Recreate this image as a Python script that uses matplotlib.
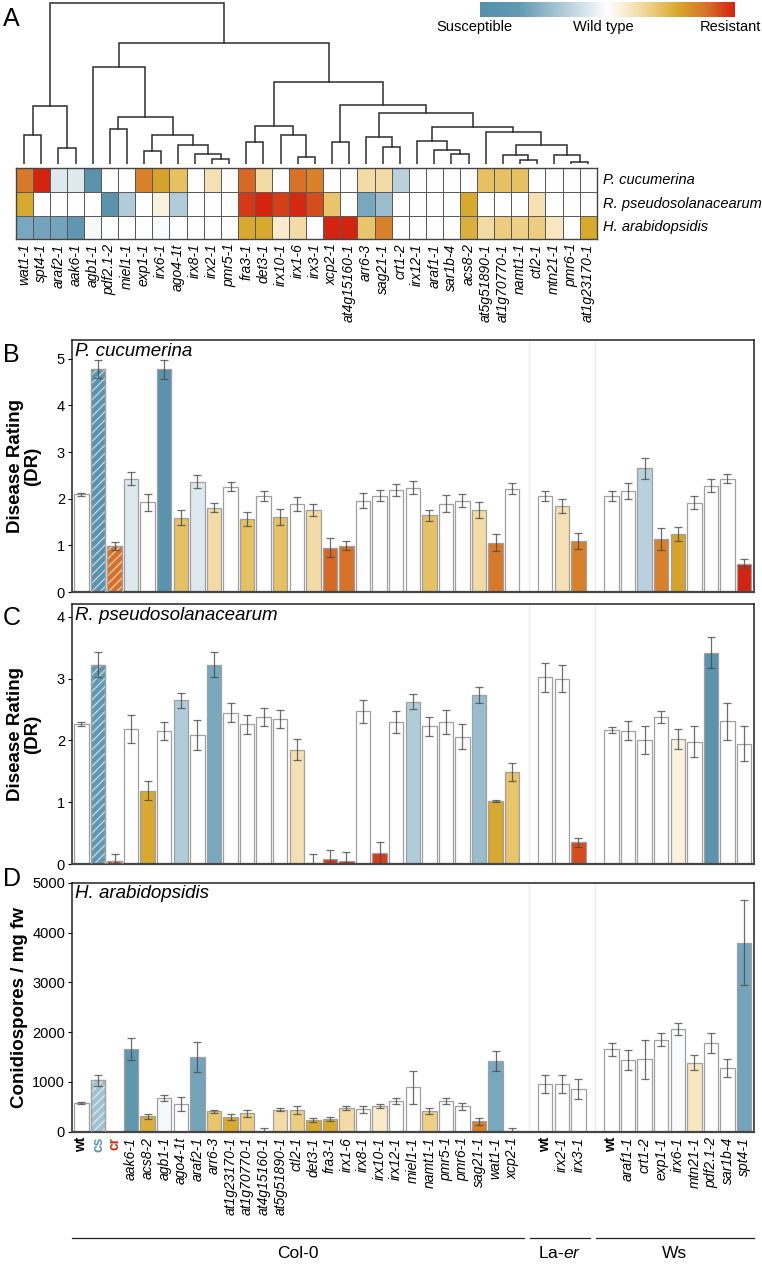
import numpy as np
import matplotlib
matplotlib.use('Agg')
import matplotlib.pyplot as plt
from matplotlib.colors import LinearSegmentedColormap, Normalize
import matplotlib.transforms as mtransforms

plt.rcParams['font.family'] = ['Liberation Sans', 'DejaVu Sans']
plt.rcParams['mathtext.fontset'] = 'custom'
plt.rcParams['mathtext.rm'] = 'Liberation Sans'
plt.rcParams['mathtext.it'] = 'Liberation Sans:italic'
plt.rcParams['hatch.linewidth'] = 1.0

# ---------------- heatmap data (panel A) ----------------
heat_genotypes = ['wat1-1', 'spt4-1', 'araf2-1', 'aak6-1', 'agb1-1', 'pdf2.1-2', 'miel1-1',
                  'exp1-1', 'irx6-1', 'ago4-1t', 'irx8-1', 'irx2-1', 'pmr5-1', 'fra3-1',
                  'det3-1', 'irx10-1', 'irx1-6', 'irx3-1', 'xcp2-1', 'at4g15160-1', 'arr6-3',
                  'sag21-1', 'crt1-2', 'irx12-1', 'araf1-1', 'sar1b-4', 'acs8-2',
                  'at5g51890-1', 'at1g70770-1', 'namt1-1', 'ctl2-1', 'mtn21-1', 'pmr6-1',
                  'at1g23170-1']
pathogens = ['P. cucumerina', 'R. pseudosolanacearum', 'H. arabidopsidis']
score_pcuc = [0.75, 1.0, -0.15, -0.15, -0.9, 0, 0, 0.72, 0.58, 0.42, 0, 0.22, 0, 0.8,
              0.25, 0, 0.78, 0.72, 0, 0, 0.25, 0.25, -0.32, 0, 0, 0, 0, 0.42, 0.42, 0.42,
              0, 0, 0, 0]
score_rpseudo = [0.55, 0, 0, 0, 0, -0.9, -0.35, 0, 0.1, -0.35, 0, 0, 0, 0.93, 1.0, 0.92,
                 0.98, 0.88, 0.4, 0, -0.6, -0.45, 0, 0, 0, 0, 0.55, 0, 0, 0, 0.22, 0, 0, 0]
score_harab = [-0.6, -0.62, -0.62, -0.78, -0.04, 0, 0, 0, -0.03, 0, 0, 0, 0, 0.55, 0.55,
               0.15, 0.25, 0, 1.0, 1.0, 0.4, 0.72, 0, 0, 0, 0, 0.52, 0.25, 0.35, 0.33,
               0.35, 0.18, 0, 0.55]

# dendrogram merges (left id, right id, height); leaves 0..33, new clusters 34..
dendro_merges = [
    (0, 1, 29), (2, 3, 16), (34, 35, 58), (5, 6, 34.3), (7, 8, 12.3), (11, 12, 5),
    (10, 39, 9.3), (9, 40, 19), (38, 41, 28.3), (37, 42, 46.3), (4, 43, 97),
    (13, 14, 21.6), (16, 17, 6.6), (15, 46, 28.3), (45, 47, 38), (18, 19, 21.6),
    (21, 22, 16.6), (20, 50, 26.6), (25, 26, 9.3), (24, 52, 13.3), (23, 53, 22.6),
    (29, 30, 4), (28, 55, 8.3), (32, 33, 1.6), (31, 57, 8.3), (56, 58, 18.3),
    (27, 59, 31.6), (54, 60, 36.6), (51, 61, 50.6), (49, 62, 58.3), (48, 63, 81.3),
    (44, 64, 120.6), (36, 65, 161),
]

# ---------------- bar data (panels B-D) ----------------
col0_genotypes = ['wt', 'cs', 'cr', 'aak6-1', 'acs8-2', 'agb1-1', 'ago4-1t', 'araf2-1',
                  'arr6-3', 'at1g23170-1', 'at1g70770-1', 'at4g15160-1', 'at5g51890-1',
                  'ctl2-1', 'det3-1', 'fra3-1', 'irx1-6', 'irx8-1', 'irx10-1', 'irx12-1',
                  'miel1-1', 'namt1-1', 'pmr5-1', 'pmr6-1', 'sag21-1', 'wat1-1', 'xcp2-1']
laer_genotypes = ['wt', 'irx2-1', 'irx3-1']
ws_genotypes = ['wt', 'araf1-1', 'crt1-2', 'exp1-1', 'irx6-1', 'mtn21-1', 'pdf2.1-2',
                'sar1b-4', 'spt4-1']
group_names = ['Col-0', r'La-$\mathit{er}$', 'Ws']

pcuc_dr = [2.09, 4.78, 0.99, 2.43, 1.92, 4.77, 1.59, 2.36, 1.81, 2.26, 1.57, 2.06, 1.61,
           1.89, 1.76, 0.95, 0.99, 1.96, 2.06, 2.19, 2.23, 1.64, 1.89, 1.96, 1.76, 1.06, 2.21,
           2.06, 1.84, 1.09,
           2.06, 2.16, 2.65, 1.14, 1.24, 1.91, 2.28, 2.43, 0.61]
pcuc_err = [0.04, 0.2, 0.08, 0.14, 0.18, 0.2, 0.16, 0.14, 0.09, 0.1, 0.15, 0.11, 0.17,
            0.15, 0.13, 0.2, 0.1, 0.17, 0.12, 0.13, 0.14, 0.11, 0.18, 0.13, 0.17, 0.18, 0.12,
            0.11, 0.15, 0.17,
            0.1, 0.17, 0.22, 0.24, 0.15, 0.14, 0.14, 0.09, 0.1]
rps_dr = [2.27, 3.23, 0.05, 2.19, 1.19, 2.15, 2.65, 2.09, 3.23, 2.45, 2.26, 2.38, 2.35,
          1.85, 0.01, 0.08, 0.05, 2.47, 0.18, 2.30, 2.63, 2.23, 2.30, 2.06, 2.74, 1.02, 1.49,
          3.02, 3.0, 0.35,
          2.17, 2.16, 2.01, 2.38, 2.03, 1.98, 3.42, 2.31, 1.95]
rps_err = [0.03, 0.2, 0.12, 0.23, 0.15, 0.15, 0.12, 0.24, 0.2, 0.15, 0.15, 0.14, 0.14,
           0.17, 0.15, 0.15, 0.15, 0.18, 0.18, 0.18, 0.12, 0.15, 0.2, 0.2, 0.13, 0.02, 0.15,
           0.23, 0.22, 0.07,
           0.05, 0.15, 0.23, 0.1, 0.16, 0.25, 0.25, 0.3, 0.28]
harab_spores = [575, 1035, 0, 1660, 310, 675, 553, 1500, 410, 290, 370, 5, 440, 440, 240,
                260, 475, 450, 510, 620, 890, 410, 610, 510, 210, 1410, 5,
                960, 950, 850,
                1650, 1430, 1450, 1850, 2060, 1380, 1780, 1280, 3800]
harab_err = [15, 110, 0, 220, 50, 60, 150, 300, 30, 60, 70, 60, 30, 80, 40, 40, 40, 70,
             40, 60, 330, 60, 60, 70, 70, 200, 70,
             180, 180, 200,
             130, 200, 400, 130, 120, 150, 200, 180, 850]
# colour score of the susceptible (cs) / resistant (cr) controls in each assay
ctrl_pcuc = {'cs': -0.9, 'cr': 0.78}
ctrl_rps = {'cs': -0.75, 'cr': 0.97}
ctrl_harab = {'cs': -0.42, 'cr': 0.97}

# ---------------- styling ----------------
cmap = LinearSegmentedColormap.from_list('sr', [
    (0.0, '#5590ab'), (0.15, '#6299b3'), (0.5, '#ffffff'), (0.6, '#f6e4bb'),
    (0.7, '#e8c56c'), (0.78, '#d6a82c'), (0.88, '#d8782a'), (1.0, '#d4230f')])
norm = Normalize(-1, 1)

W, H = 762, 1270
fig = plt.figure(figsize=(W / 100, H / 100), dpi=100)


def rect(x0, y0, x1, y1):
    return [x0 / W, 1 - y1 / H, (x1 - x0) / W, (y1 - y0) / H]


# ---------------- dendrogram ----------------
ax_dn = fig.add_axes(rect(15.7, 0, 596.7, 163.5))
nleaf = len(heat_genotypes)
xpos = {i: i + 0.5 for i in range(nleaf)}
hpos = {i: 0.0 for i in range(nleaf)}
for k, (a, b, h) in enumerate(dendro_merges):
    cid = nleaf + k
    ax_dn.plot([xpos[a], xpos[a], xpos[b], xpos[b]], [hpos[a], h, h, hpos[b]],
               color='#2e2e2e', lw=1.1, solid_joinstyle='miter')
    xpos[cid] = (xpos[a] + xpos[b]) / 2
    hpos[cid] = h
ax_dn.set_xlim(0, nleaf)
ax_dn.set_ylim(0, 163.5)
ax_dn.axis('off')

# ---------------- heatmap ----------------
ax_h = fig.add_axes(rect(15.7, 168.3, 596.7, 239.3))
heat = np.array([score_pcuc, score_rpseudo, score_harab])
ax_h.pcolormesh(np.arange(nleaf + 1), np.arange(4), heat, cmap=cmap, norm=norm,
                edgecolors='#5a5a5a', linewidth=0.7)
ax_h.set_xlim(0, nleaf)
ax_h.set_ylim(3, 0)
ax_h.set_yticks([])
ax_h.set_xticks(np.arange(nleaf) + 0.5)
ax_h.set_xticklabels(heat_genotypes, rotation=90, style='italic', fontsize=10)
ax_h.tick_params(axis='x', length=0, pad=3)
for s in ax_h.spines.values():
    s.set_color('#444444')
    s.set_linewidth(1.0)
for r, name in enumerate(pathogens):
    ax_h.text(nleaf + 0.35, r + 0.5, name, va='center', ha='left', style='italic',
              fontsize=10.5)

# colour bar
ax_cb = fig.add_axes(rect(480, 2, 735, 17))
ax_cb.imshow(np.linspace(-1, 1, 256)[None, :], aspect='auto', cmap=cmap, norm=norm)
ax_cb.axis('off')
for txt, xc in [('Susceptible', 474), ('Wild type', 603), ('Resistant', 730)]:
    fig.text(xc / W, 1 - 27 / H, txt, ha='center', va='center', fontsize=10.5)

# ---------------- bar panels ----------------
groups = [col0_genotypes, laer_genotypes, ws_genotypes]
all_genotypes = []
positions = []
group_spans = []
start = 0
for g in groups:
    positions.extend(range(start, start + len(g)))
    all_genotypes.extend(g)
    group_spans.append((start, start + len(g) - 1))
    start += len(g) + 1
positions = np.array(positions, dtype=float)
separators = [group_spans[i][1] + 1 for i in range(len(groups) - 1)]
score_lookup = {p: dict(zip(heat_genotypes, s))
                for p, s in zip(pathogens, [score_pcuc, score_rpseudo, score_harab])}

panel_specs = [
    ('B', rect(72, 340, 754, 592), pathogens[0], pcuc_dr, pcuc_err, ctrl_pcuc,
     (0, 5.4), [0, 1, 2, 3, 4, 5], 'Disease Rating\n(DR)', 343),
    ('C', rect(72, 604, 754, 864), pathogens[1], rps_dr, rps_err, ctrl_rps,
     (0, 4.21), [0, 1, 2, 3, 4], 'Disease Rating\n(DR)', 606),
    ('D', rect(72, 883, 754, 1131.5), pathogens[2], harab_spores, harab_err, ctrl_harab,
     (0, 5000), [0, 1000, 2000, 3000, 4000, 5000], 'Conidiospores / mg fw', 867),
]
bw = 0.87
axes = []
for letter, r, path, vals, errs, ctrl, ylim, yt, ylab, ly in panel_specs:
    ax = fig.add_axes(r)
    axes.append(ax)
    colors = []
    for g in all_genotypes:
        if g == 'wt':
            s = 0
        elif g in ctrl:
            s = ctrl[g]
        else:
            s = score_lookup[path][g]
        colors.append(cmap(norm(s)))
    vals = np.array(vals, dtype=float)
    ax.bar(positions, vals, width=bw, color=colors, edgecolor='#a0a0a0', linewidth=0.9,
           zorder=2)
    idx = [i for i, g in enumerate(all_genotypes) if g in ctrl]
    ax.bar(positions[idx], vals[idx], width=bw, facecolor='none',
           edgecolor=(1, 1, 1, 0.6), hatch='////', linewidth=0, zorder=2.5)
    ax.bar(positions[idx], vals[idx], width=bw, facecolor='none', edgecolor='#a0a0a0',
           linewidth=0.9, zorder=2.6)
    ax.errorbar(positions, vals, yerr=errs, fmt='none', ecolor='#4a4a4a', elinewidth=0.9,
                capsize=3, capthick=0.9, alpha=0.8, zorder=3)
    for sx in separators:
        ax.axvline(sx, color='#ebebeb', lw=1, zorder=0)
    ax.set_xlim(-0.57, 40.6)
    ax.set_ylim(*ylim)
    ax.set_yticks(yt)
    ax.tick_params(axis='y', direction='out', length=3, labelsize=10.5, pad=2)
    ax.tick_params(axis='x', length=0)
    for s in ax.spines.values():
        s.set_color('#222222')
        s.set_linewidth(1.1)
    ax.spines['bottom'].set_linewidth(1.6)
    ax.spines['bottom'].set_color('#454545')
    ax.text(0.005, 0.99, path, transform=ax.transAxes, ha='left', va='top',
            style='italic', fontsize=13.5)
    ax.set_ylabel(ylab, fontweight='bold', fontsize=13.5, linespacing=1.0)
    # label coords give the right-hand edge of the rotated label
    ax.yaxis.set_label_coords(-0.046 if '\n' in ylab else -0.064, 0.5)
    fig.text(3 / W, 1 - ly / H, letter, ha='left', va='top', fontsize=18)
    if letter != 'D':
        ax.set_xticks([])

fig.text(3 / W, 1 - 7 / H, 'A', ha='left', va='top', fontsize=18)

ax_d = axes[-1]
ax_d.set_xticks(positions)
ax_d.set_xticklabels(all_genotypes, rotation=90, fontsize=10)
ax_d.tick_params(axis='x', length=0, pad=4)
for lbl, g in zip(ax_d.get_xticklabels(), all_genotypes):
    if g == 'wt':
        lbl.set_fontweight('bold')
    elif g == 'cs':
        lbl.set_fontweight('bold')
        lbl.set_color('#5b97b1')
    elif g == 'cr':
        lbl.set_fontweight('bold')
        lbl.set_color('#d42a10')
    else:
        lbl.set_style('italic')

# group brackets
tr = mtransforms.blended_transform_factory(ax_d.transData, fig.transFigure)
edges = [-0.6] + [s + 0.0 for s in separators] + [40.6]
for i, name in enumerate(group_names):
    x0 = edges[i] + (0.05 if i > 0 else 0)
    x1 = edges[i + 1] - (0.3 if i < len(group_names) - 1 else 0)
    line = plt.Line2D([x0, x1], [1 - 1238 / H] * 2, color='#222222', lw=0.9,
                      transform=tr, figure=fig)
    fig.lines.append(line)
    fig.text((x0 + x1) / 2, 1 - 1253 / H, name, transform=tr, ha='center', va='center',
             fontsize=12.5)

fig.savefig('out.png', dpi=100)
